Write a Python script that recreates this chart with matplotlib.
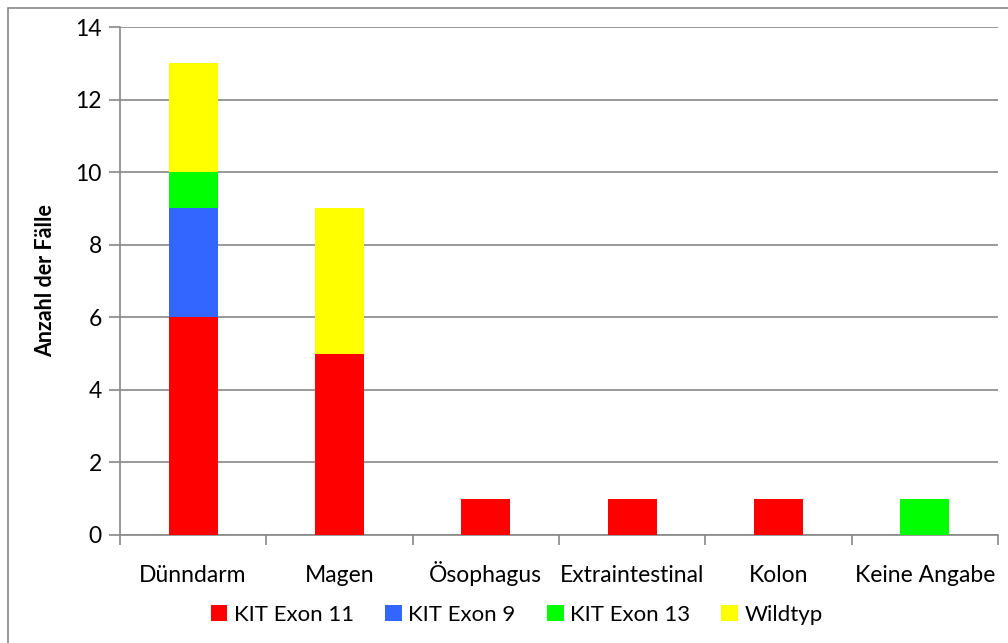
import numpy as np
import matplotlib
matplotlib.use("Agg")
from matplotlib import pyplot as plt
from matplotlib.patches import Rectangle

plt.rcParams['font.family'] = ['Lato', 'DejaVu Sans']

categories = ["Dünndarm", "Magen", "Ösophagus", "Extraintestinal", "Kolon", "Keine Angabe"]
series_names = ["KIT Exon 11", "KIT Exon 9", "KIT Exon 13", "Wildtyp"]
kit_exon_11 = [6, 5, 1, 1, 1, 0]
kit_exon_9 = [3, 0, 0, 0, 0, 0]
kit_exon_13 = [1, 0, 0, 0, 0, 1]
wildtyp = [3, 4, 0, 0, 0, 0]
colors = ["#FF0000", "#3366FF", "#00FF00", "#FFFF00"]

fig = plt.figure(figsize=(10.08, 6.43), dpi=100)
ax = fig.add_axes([0.119, 0.168, 0.871, 0.79])

# frame around the chart area, runs off the right/bottom edge
fig.patches.append(Rectangle((8 / 1008, -0.05), 1.2, (643 - 8) / 643 + 0.05,
                             transform=fig.transFigure, fill=False,
                             edgecolor="#888888", linewidth=1.2))

x = np.arange(len(categories))
bottom = np.zeros(len(categories))
for name, vals, col in zip(series_names, [kit_exon_11, kit_exon_9, kit_exon_13, wildtyp], colors):
    ax.bar(x, vals, width=0.335, bottom=bottom, color=col, label=name, zorder=3)
    bottom += np.array(vals)

ax.set_xlim(-0.5, len(categories) - 0.5)
ax.set_ylim(0, 14)
ax.set_yticks(range(0, 15, 2))
ax.set_xticks(x)
ax.set_xticklabels(categories)
ax.set_xticks(np.arange(-0.5, len(categories)), minor=True)
ax.tick_params(axis='x', which='major', length=0, pad=34, labelsize=16.5)
ax.tick_params(axis='x', which='minor', length=7, color="#888888", width=1.2)
ax.tick_params(axis='y', length=8, color="#888888", width=1.2, labelsize=16.5, pad=5)
for lbl in ax.get_xticklabels():
    lbl.set_va("baseline")

ax.grid(axis='y', color="#888888", linewidth=1.2, zorder=0)
for s in ["top", "right"]:
    ax.spines[s].set_visible(False)
for s in ["left", "bottom"]:
    ax.spines[s].set_color("#888888")
    ax.spines[s].set_linewidth(1.2)

ax.set_ylabel("Anzahl der Fälle", fontsize=15.5, fontweight="bold", labelpad=14)

ax.legend(loc="center", bbox_to_anchor=(0.452, -0.157), ncol=4, frameon=False,
          fontsize=16, handlelength=0.75, handleheight=0.75, handletextpad=0.3,
          columnspacing=1.4)

fig.savefig("out.png", dpi=100)
